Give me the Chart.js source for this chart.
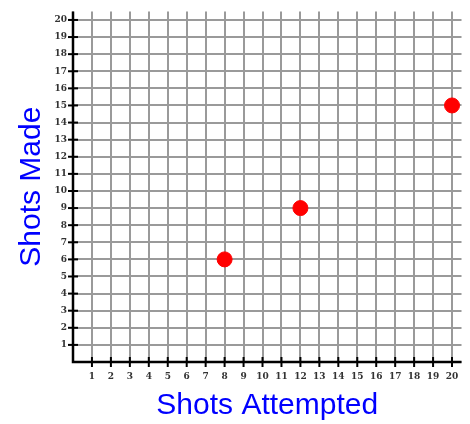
<!DOCTYPE html>
<html>
<head>
<meta charset="utf-8">
<script src="https://cdn.jsdelivr.net/npm/chart.js@4/dist/chart.umd.min.js"></script>
<style>
  html, body { margin: 0; padding: 0; background: #fff; }
  #wrap { width: 470px; height: 424px; }
</style>
</head>
<body>
<div id="wrap"><canvas id="myChart" width="470" height="424"></canvas></div>
<script>
// Данные точек
let shotsAttempted = [8, 12, 20];
let shotsMade = [6, 9, 15];
// Подписи осей
let xTitle = 'Shots Attempted';
let yTitle = 'Shots Made';
let axisMax = 20;

// Целые деления 0..20
function intTicks(scale) {
    let t = [];
    for (let i = 0; i <= axisMax; i++) t.push({ value: i });
    scale.ticks = t;
}

// Чёрные засечки поперёк осей
let axisTicks = {
    id: 'axisTicks',
    afterDatasetsDraw(chart) {
        let c = chart.ctx;
        let x = chart.scales.x, y = chart.scales.y;
        let x0 = x.getPixelForValue(0), y0 = y.getPixelForValue(0);
        c.save();
        c.strokeStyle = '#000';
        c.lineWidth = 2;
        for (let i = 1; i <= axisMax; i++) {
            let px = x.getPixelForValue(i);
            c.beginPath(); c.moveTo(px, y0 - 5); c.lineTo(px, y0 + 5); c.stroke();
            let py = y.getPixelForValue(i);
            c.beginPath(); c.moveTo(x0 - 5, py); c.lineTo(x0 + 5, py); c.stroke();
        }
        c.lineWidth = 2.5;
        c.beginPath();
        c.moveTo(x0, chart.chartArea.top);
        c.lineTo(x0, y0);
        c.lineTo(chart.chartArea.right, y0);
        c.stroke();
        c.restore();
    }
};

let ctx = document.getElementById('myChart').getContext('2d');
let chart = new Chart(ctx, {
    type: 'scatter',
    data: {
        datasets: [{
            data: shotsAttempted.map((v, i) => ({ x: v, y: shotsMade[i] })),
            backgroundColor: '#ff0000',
            borderColor: '#ff0000',
            pointRadius: 7.5,
            pointHoverRadius: 7.5
        }]
    },
    options: {
        responsive: false,
        animation: false,
        layout: { padding: { top: 8, right: 7, left: 0, bottom: 0 } },
        plugins: { legend: { display: false }, tooltip: { enabled: false } },
        scales: {
            x: {
                type: 'linear',
                min: 0,
                max: 20.5,
                afterBuildTicks: intTicks,
                afterFit(scale) { scale.height = 62; },
                grid: { color: '#9a9a9a', lineWidth: 2, drawTicks: false },
                border: { display: false },
                ticks: {
                    padding: 9,
                    color: '#333',
                    font: { family: 'DejaVu Serif', size: 9, weight: 'bold' },
                    callback: v => v === 0 ? '' : v
                },
                title: {
                    display: true,
                    text: xTitle,
                    color: '#0000ff',
                    font: { family: 'Liberation Sans', size: 30 },
                    padding: { top: 0, bottom: 0 }
                }
            },
            y: {
                type: 'linear',
                min: 0,
                max: 20.5,
                afterBuildTicks: intTicks,
                afterFit(scale) { scale.width = 73; },
                grid: { color: '#9a9a9a', lineWidth: 2, drawTicks: false },
                border: { display: false },
                ticks: {
                    padding: 6,
                    color: '#333',
                    font: { family: 'DejaVu Serif', size: 9, weight: 'bold' },
                    callback: v => v === 0 ? '' : v
                },
                title: {
                    display: true,
                    text: yTitle,
                    color: '#0000ff',
                    font: { family: 'Liberation Sans', size: 30 },
                    padding: { top: 14, bottom: 0 }
                }
            }
        }
    },
    plugins: [axisTicks]
});
</script>
</body>
</html>
